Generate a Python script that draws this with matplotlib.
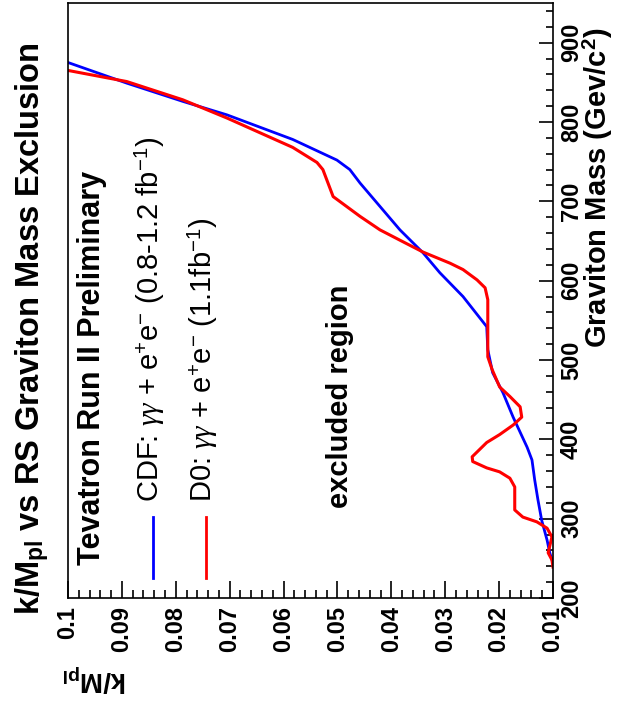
import matplotlib
matplotlib.use("Agg")
import matplotlib.pyplot as plt
from matplotlib.lines import Line2D
from matplotlib.ticker import MultipleLocator

plt.rcParams['font.family'] = ['Liberation Sans', 'DejaVu Sans']
plt.rcParams['mathtext.fontset'] = 'custom'
plt.rcParams['mathtext.rm'] = 'Liberation Sans'
plt.rcParams['mathtext.bf'] = 'Liberation Sans:bold'
plt.rcParams['mathtext.it'] = 'Liberation Serif:italic'

# ---- data ----
cdf_k = [0.100, 0.0891, 0.0787, 0.0705, 0.0583, 0.0501, 0.0477, 0.0458, 0.0384,
         0.0341, 0.0310, 0.0267, 0.0223, 0.0221, 0.0212, 0.0193, 0.0174, 0.0148,
         0.0139, 0.0134, 0.0128, 0.0121, 0.0111, 0.0106, 0.0100]
cdf_m = [875, 849, 826, 809, 778, 752, 740, 723, 664,
         635, 610, 580, 542, 513, 484, 459, 428, 390,
         374, 349, 324, 298, 273, 257, 244]

d0_k = [0.100, 0.0891, 0.0787, 0.0705, 0.0583, 0.0538, 0.0527, 0.0508, 0.0482,
        0.0458, 0.0421, 0.0384, 0.0341, 0.0291, 0.0267, 0.0241, 0.0226, 0.0221,
        0.0221, 0.0213, 0.0199, 0.0180, 0.0161, 0.0158, 0.0174, 0.0199, 0.0223,
        0.0250, 0.0249, 0.0223, 0.0199, 0.0180, 0.0171, 0.0171, 0.0156, 0.0130,
        0.0111, 0.0102, 0.0109, 0.0102, 0.0100]
d0_m = [865, 851, 828, 805, 768, 749, 740, 706, 693,
        681, 664, 651, 636, 622, 614, 601, 591, 576,
        504, 488, 466, 454, 441, 428, 418, 406, 396,
        378, 372, 364, 359, 351, 340, 311, 302, 296,
        288, 277, 257, 248, 239]

k_ticks = [0.1, 0.09, 0.08, 0.07, 0.06, 0.05, 0.04, 0.03, 0.02, 0.01]
k_ticklabels = ["0.1", "0.09", "0.08", "0.07", "0.06", "0.05", "0.04", "0.03", "0.02", "0.01"]
m_ticks = [200, 300, 400, 500, 600, 700, 800, 900]

W, H = 617, 707
fig = plt.figure(figsize=(W / 100, H / 100), dpi=100)

def fx(x):
    return x / W

def fy(y):
    return 1 - y / H

L, R, T, B = 68, 553, 3, 598
ax = fig.add_axes([fx(L), fy(B), (R - L) / W, (B - T) / H])

ax.plot(cdf_k, cdf_m, color=(0, 0, 1), lw=2.0, solid_joinstyle='round', clip_on=True)
ax.plot(d0_k, d0_m, color=(1, 0, 0), lw=2.2, solid_joinstyle='round', clip_on=True)

ax.set_xlim(0.1, 0.01)
ax.set_ylim(200, 950)

ax.set_xticks(k_ticks)
ax.set_xticklabels(k_ticklabels)
ax.xaxis.set_minor_locator(MultipleLocator(0.002))
ax.set_yticks(m_ticks)
ax.yaxis.set_minor_locator(MultipleLocator(20))

ax.yaxis.tick_right()
ax.tick_params(axis='x', which='both', direction='in', bottom=True, top=False,
               labelrotation=90, labelsize=17, pad=6, width=1.2)
ax.tick_params(axis='x', which='major', length=12)
ax.tick_params(axis='x', which='minor', length=6)
ax.tick_params(axis='y', which='both', direction='in', right=True, left=False,
               labelright=True, labelleft=False, labelrotation=90, labelsize=17,
               pad=5, width=1.2)
ax.tick_params(axis='y', which='major', length=10)
ax.tick_params(axis='y', which='minor', length=5)
for lab in ax.get_xticklabels() + ax.get_yticklabels():
    lab.set_fontweight('bold')
for lab in ax.get_yticklabels():
    lab.set_verticalalignment('center')
for s in ax.spines.values():
    s.set_linewidth(1.2)

# titles and labels
fig.text(fx(32), fy(329), r"k/M$_{\mathbf{pl}}$ vs RS Graviton Mass Exclusion",
         rotation=90, ha='center', va='center', fontsize=23.5, fontweight='bold')
fig.text(fx(615), fy(188), r"Graviton Mass (Gev/c$^{\mathbf{2}}$)",
         rotation=90, ha='right', va='center', fontsize=21, fontweight='bold')
fig.text(fx(95), fy(678), r"k/M$_{\mathbf{pl}}$",
         rotation=180, ha='center', va='center', fontsize=20, fontweight='bold')

# annotations inside the frame
fig.text(fx(92), fy(565), "Tevatron Run II Preliminary", rotation=90,
         ha='center', va='bottom', fontsize=22, fontweight='bold')
fig.text(fx(340), fy(508), "excluded region", rotation=90,
         ha='center', va='bottom', fontsize=21, fontweight='bold')

fig.text(fx(150), fy(502), r"CDF: $\gamma\gamma$ + e$^{+}$e$^{-}$ (0.8-1.2 fb$^{-1}$)",
         rotation=90, ha='center', va='bottom', fontsize=21)
fig.text(fx(203), fy(502), r"D0: $\gamma\gamma$ + e$^{+}$e$^{-}$ (1.1fb$^{-1}$)",
         rotation=90, ha='center', va='bottom', fontsize=21)
fig.add_artist(Line2D([fx(153), fx(153)], [fy(578), fy(517)], color=(0, 0, 1), lw=2.0))
fig.add_artist(Line2D([fx(206), fx(206)], [fy(578), fy(517)], color=(1, 0, 0), lw=2.0))

fig.savefig("out.png", dpi=100)
